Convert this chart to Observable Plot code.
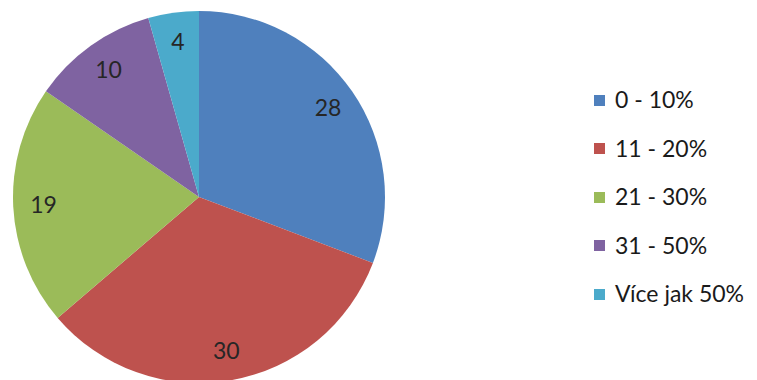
<!DOCTYPE html>
<html>
<head>
<meta charset="utf-8">
<script src="https://cdn.jsdelivr.net/npm/d3@7"></script>
<script src="https://cdn.jsdelivr.net/npm/@observablehq/plot@0.6"></script>
<style>
  html, body { margin: 0; padding: 0; background: #ffffff; }
  #wrap { position: relative; width: 757px; height: 380px; overflow: hidden; background: #ffffff; }
  #legend { position: absolute; left: 594px; top: 75px; font-family: Lato, "Open Sans", sans-serif; font-size: 23px; color: #1a1a1a; }
  .row { display: flex; align-items: center; height: 48.5px; white-space: nowrap; }
  .sw { width: 11px; height: 11px; margin-right: 10px; flex: none; position: relative; top: 1px; }
</style>
</head>
<body>
<div id="wrap"></div>
<script>
// Data
const categories = ["0 - 10%", "11 - 20%", "21 - 30%", "31 - 50%", "Více jak 50%"];
const values = [28, 30, 19, 10, 4];
const colors = ["#4F80BD", "#BE524E", "#9BBB59", "#7F63A1", "#4BAACB"];

const data = categories.map((c, i) => ({category: c, value: values[i], color: colors[i]}));
const arcs = d3.pie().sort(null).value(d => d.value)(data);
const labelR = 0.84;
const labels = arcs.map(a => {
  const mid = (a.startAngle + a.endAngle) / 2;
  return {text: String(a.data.value), x: labelR * Math.sin(mid), y: labelR * Math.cos(mid)};
});

function pieMark(index, scales) {
  const cx = scales.x(0), cy = scales.y(0);
  const r = scales.x(1) - scales.x(0);
  const arc = d3.arc().innerRadius(0).outerRadius(r);
  const g = d3.create("svg:g").attr("transform", `translate(${cx},${cy})`);
  g.selectAll("path").data(arcs).join("path")
    .attr("d", arc)
    .attr("fill", d => d.data.color)
    .attr("stroke", "none");
  return g.node();
}

const chart = Plot.plot({
  width: 757,
  height: 380,
  margin: 0,
  x: {domain: [-1, 1], range: [13, 385], axis: null},
  y: {domain: [-1, 1], range: [383, 11], axis: null},
  style: {background: "transparent"},
  marks: [
    pieMark,
    Plot.text(labels, {x: "x", y: "y", text: "text", fontSize: 23, fill: "#262626",
      fontFamily: "Lato, 'Open Sans', sans-serif"})
  ]
});
const wrap = document.getElementById("wrap");
wrap.appendChild(chart);

const legend = document.createElement("div");
legend.id = "legend";
data.forEach(d => {
  const row = document.createElement("div");
  row.className = "row";
  const sw = document.createElement("span");
  sw.className = "sw";
  sw.style.background = d.color;
  const t = document.createElement("span");
  t.textContent = d.category;
  row.appendChild(sw); row.appendChild(t);
  legend.appendChild(row);
});
wrap.appendChild(legend);
</script>
</body>
</html>
